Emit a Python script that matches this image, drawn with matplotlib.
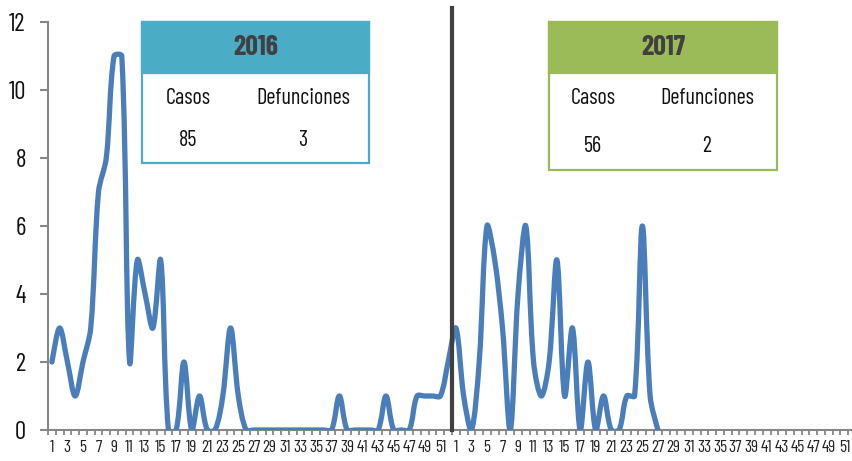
import numpy as np
import matplotlib
matplotlib.use("Agg")
import matplotlib.pyplot as plt
from matplotlib.path import Path
from matplotlib.patches import PathPatch, Rectangle

plt.rcParams['font.family'] = ['Barlow Condensed', 'DejaVu Sans']

# weekly cases, epidemiological weeks 1-52 of 2016 and 1-27 of 2017
casos_2016 = [2, 3, 2, 1, 2, 3, 7, 8, 11, 11, 2, 5, 4, 3, 5, 0, 0, 2, 0, 1,
              0, 0, 1, 3, 1, 0, 0, 0, 0, 0, 0, 0, 0, 0, 0, 0, 0, 1, 0, 0,
              0, 0, 0, 1, 0, 0, 0, 1, 1, 1, 1, 2]
casos_2017 = [3, 1, 0, 2, 6, 5, 3, 0, 4, 6, 2, 1, 2, 5, 1, 3, 0, 2, 0, 1,
              0, 0, 1, 1, 6, 1, 0]
semanas = list(range(1, 53))
tick_labels = [str(s) if s % 2 == 1 else "" for s in semanas] * 2

resumen = {"2016": ("85", "3"), "2017": ("56", "2")}
colores = {"2016": "#4BACC6", "2017": "#9BBB59"}

W, H = 852, 461
fig = plt.figure(figsize=(W / 100, H / 100), dpi=100)
ax = fig.add_axes([48 / W, (H - 430) / H, 808 / W, 408 / H])
ax.set_xlim(-0.5, 2 * len(semanas) - 0.5)
ax.set_ylim(0, 12)

serie = casos_2016 + casos_2017
pts = np.column_stack([np.arange(len(serie)), serie]).astype(float)


def smooth_path(p):
    # excel-like smoothed line, control points worked out in pixel space
    d = ax.transData.transform(p)
    verts = [d[0]]
    codes = [Path.MOVETO]
    n = len(d)
    seg = np.hypot(*np.diff(d, axis=0).T)
    tang = []
    for i in range(n):
        a = d[i - 1] if i > 0 else d[i]
        b = d[i + 1] if i < n - 1 else d[i]
        tang.append(b - a)
    for i in range(n - 1):
        l_prev = seg[i - 1] if i > 0 else seg[i]
        l_next = seg[i + 1] if i + 1 < n - 1 else seg[i]
        k1 = seg[i] / (l_prev + seg[i]) / 3 if (l_prev + seg[i]) else 0
        k2 = seg[i] / (seg[i] + l_next) / 3 if (seg[i] + l_next) else 0
        c1 = d[i] + tang[i] * k1
        c2 = d[i + 1] - tang[i + 1] * k2
        verts += [c1, c2, d[i + 1]]
        codes += [Path.CURVE4] * 3
    inv = ax.transData.inverted()
    return Path(inv.transform(np.array(verts)), codes)


ax.add_patch(PathPatch(smooth_path(pts), fill=False, edgecolor="#4A7EBB",
                       lw=3.8, capstyle="round", joinstyle="round", zorder=3))

ax.set_yticks(range(0, 13, 2))
ax.set_xticks(range(2 * len(semanas)))
ax.set_xticklabels(tick_labels)
ax.set_xticks(np.arange(-0.5, 2 * len(semanas), 1), minor=True)

for s in ["top", "right"]:
    ax.spines[s].set_visible(False)
for s in ["left", "bottom"]:
    ax.spines[s].set_color("#868686")
    ax.spines[s].set_linewidth(1.5)

ax.tick_params(axis="y", length=6, width=1.5, color="#868686", pad=10,
               labelsize=18, labelcolor="#111111")
ax.tick_params(axis="x", which="major", length=0, pad=7, labelsize=12.5,
               labelcolor="#222222")
ax.tick_params(axis="x", which="minor", length=3.5, width=1.3, color="#868686")

# divider between years
ax.plot([len(semanas) - 0.5] * 2, [0, 12.42], color="#404040", lw=3,
        clip_on=False, zorder=4)


def caja(anio, x0, x1, y_head, y_bot, cx1, cx2, y_lab, y_val):
    col = colores[anio]
    fig.add_artist(Rectangle((x0 / W, 1 - y_bot / H), (x1 - x0) / W,
                             (y_bot - 22) / H, facecolor="white",
                             edgecolor=col, lw=1.6, zorder=5))
    fig.add_artist(Rectangle((x0 / W, 1 - y_head / H), (x1 - x0) / W,
                             (y_head - 22) / H, facecolor=col,
                             edgecolor=col, lw=1.6, zorder=6))
    fig.text((x0 + x1) / 2 / W, 1 - (y_head + 22) / 2 / H, anio,
             ha="center", va="center", fontsize=20, fontweight="bold",
             color="#404040", zorder=7)
    casos, defun = resumen[anio]
    for cx, lab, val in [(cx1, "Casos", casos), (cx2, "Defunciones", defun)]:
        fig.text(cx / W, 1 - y_lab / H, lab, ha="center", va="center",
                 fontsize=16, color="#111111", zorder=7)
        fig.text(cx / W, 1 - y_val / H, val, ha="center", va="center",
                 fontsize=16, color="#111111", zorder=7)


caja("2016", 142, 369, 73, 163, 188, 303, 99, 141)
caja("2017", 549, 777, 73, 170, 593, 707, 99, 146)

fig.savefig("out.png", dpi=100)
